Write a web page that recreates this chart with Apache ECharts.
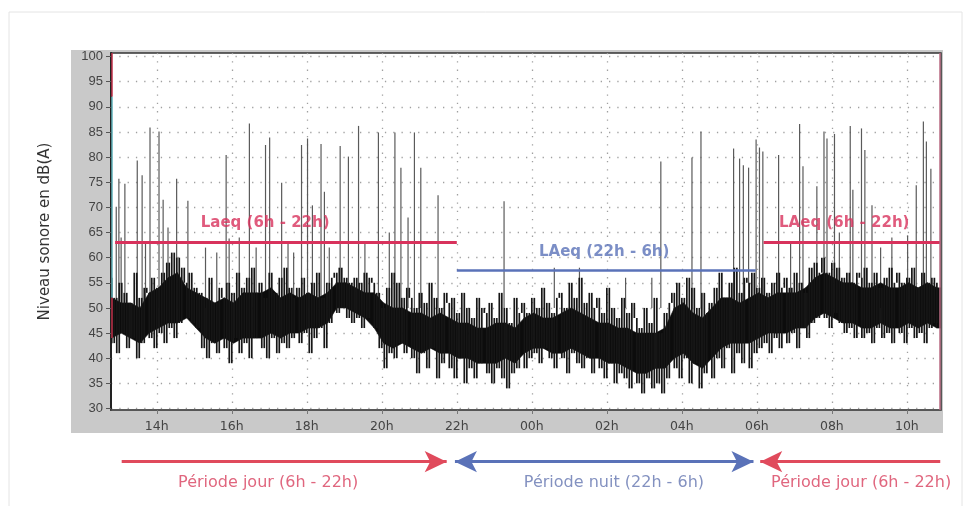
<!DOCTYPE html>
<html><head><meta charset="utf-8">
<script src="https://cdn.jsdelivr.net/npm/echarts@6/dist/echarts.min.js"></script>
<style>html,body{margin:0;padding:0;background:#fff}#c{width:973px;height:506px}</style>
</head><body><div id="c"></div>
<script>
// ---- tick labels ----
const hourTicks = [14, 16, 18, 20, 22, 24, 26, 28, 30, 32, 34];
const hourLabels = ['14h', '16h', '18h', '20h', '22h', '00h', '02h', '04h', '06h', '08h', '10h'];
const levelTicks = [30, 35, 40, 45, 50, 55, 60, 65, 70, 75, 80, 85, 90, 95, 100];

// ---- measured sound level, dB(A): one reading every 4 minutes from 12:48 ----
const sampleStart = 12.8;     // hours (12:48)
const sampleStepMin = 4;      // minutes
const levels = [
  56,43,52,41,55,45,53,42,51,44,57,40,52,43,54,   // 12:48
  53,44,56,42,54,45,57,43,59,46,61,44,60,47,58,   // 13:48
  55,48,57,47,54,46,53,42,52,40,56,43,51,41,54,   // 14:48
  52,42,55,39,53,44,57,41,54,43,56,40,58,44,53,   // 15:48
  55,42,52,40,57,44,53,41,56,43,58,42,54,44,52,   // 16:48
  54,43,56,45,53,41,55,44,57,46,52,42,55,47,56,   // 17:48
  57,49,58,50,56,48,55,47,56,48,55,46,57,48,56,   // 18:48
  55,46,53,42,50,38,54,41,57,40,55,43,52,41,54,   // 19:48
  52,40,50,37,53,41,51,38,55,42,52,36,50,39,53,   // 20:48
  51,38,52,36,49,40,53,35,50,38,48,36,52,39,50,   // 21:48
  49,37,51,35,48,38,53,36,50,34,47,37,52,38,49,   // 22:48
  51,38,49,40,52,41,50,39,54,42,51,40,49,38,52,   // 23:48
  53,40,50,37,55,41,52,39,56,38,51,40,53,37,50,   // 00:48
  52,38,49,36,54,39,50,35,48,37,52,36,49,34,51,   // 01:48
  48,35,46,33,50,36,47,34,52,35,45,33,49,36,51,   // 02:48
  53,38,55,36,52,40,56,35,54,39,50,34,53,37,49,   // 03:48
  51,36,54,40,57,38,52,42,55,37,58,41,53,39,56,   // 04:48
  55,38,57,41,54,42,56,43,53,41,55,44,57,42,54,   // 05:48
  56,43,54,45,57,42,55,46,53,44,58,47,59,48,57,   // 06:48
  60,48,57,46,59,49,58,47,56,45,57,46,55,44,57,   // 07:48
  56,44,58,45,55,43,57,46,54,44,56,45,58,43,55,   // 08:48
  57,45,55,43,56,46,58,44,54,45,57,43,55,46,56,   // 09:48
  47,55                                           // 10:48
];

// ---- dense core of the trace (bulk of readings), every 15 minutes from 12:48 ----
const coreStepMin = 15;
const coreLow = [
  44,45,44,43, 45,46,47,47, 48,46,44,43, 44,43,44,44, 44,45,44,45, 45,46,46,47,
  50,50,49,48, 46,43,42,43, 42,41,42,41, 41,40,40,39, 39,39,40,39, 41,42,42,41,
  41,42,41,40, 40,39,39,38, 37,37,38,38, 40,41,39,38, 40,42,43,43, 43,44,45,45,
  45,46,46,48, 49,48,47,47, 46,46,47,46, 46,47,46,47, 46,46
];
const coreHigh = [
  52,51,51,50, 53,54,56,57, 54,53,52,51, 52,51,53,53, 53,54,52,53, 52,53,52,53,
  55,55,54,53, 53,51,50,50, 49,49,48,49, 48,47,47,46, 46,47,47,46, 48,49,48,48,
  49,50,49,48, 47,47,46,46, 45,45,45,46, 50,51,49,48, 50,52,52,51, 52,53,52,53,
  53,53,54,56, 57,56,55,55, 54,54,55,54, 54,55,54,55, 54,54
];

// ---- isolated noise peaks: [hour, peak dB(A)] ----
const spikes = [
  [12.92,70.1],[12.99,75.7],[13.05,64],[13.15,74.7],[13.48,79.3],[13.61,76.4],[13.7,63],[13.82,85.9],
  [14.06,85.1],[14.17,71.5],[14.3,66],[14.53,75.7],[14.83,71.3],[15.3,62],[15.6,61],[15.85,80.4],
  [15.93,63.8],[16.2,64],[16.47,86.7],[16.65,62],[16.9,82.4],[17.01,83.9],[17.33,74.9],[17.5,63],
  [17.65,61],[17.86,82.4],[18.02,83.7],[18.15,70.4],[18.38,82.6],[18.47,73.1],[18.6,62],[18.89,82.2],
  [19.11,80.1],[19.38,86.2],[19.55,63],[19.91,84.9],[20.2,65],[20.35,84.9],[20.51,77.9],[20.7,68],
  [20.87,84.9],[21.04,77.9],[21.5,72.4],[23.26,71.2],[24.6,58],[25.27,58],[26.5,56],[27.2,56],
  [27.44,79.1],[28.27,79.9],[28.51,85.1],[29.38,81.7],[29.54,79.7],[29.64,78.4],[29.78,77.9],[29.98,83.5],
  [30.07,81.9],[30.16,81.1],[30.58,80.4],[30.9,63],[31.14,86.6],[31.23,78.2],[31.6,74.2],[31.79,85.1],
  [31.87,83.7],[32.07,84.6],[32.2,65],[32.49,86.2],[32.56,73.5],[32.79,85.7],[32.88,81.4],[33.07,70.4],
  [33.3,62],[33.6,64],[34.02,64.4],[34.25,74.4],[34.44,87.1],[34.52,83.1],[34.64,77.7]
];
const spikeBase = 50;

// ---- equivalent levels ----
const laeqDay = 63;
const laeqNight = 57.4;
const periods = {dayA: [12.89, 22], night: [22, 29.97], dayB: [30.18, 34.89]};

// ---- axis extents ----
const xMin = 12.78, xMax = 34.91;
const yMin = 29.7, yMax = 100.7;

const RED = '#d8325c', BLUE = '#5a72b8';
// trace: each reading joined vertically to the next one
const traceData = levels.slice(0, -1).map((v, i) => [sampleStart + i * sampleStepMin / 60, v, levels[i + 1]]);
const coreData = coreLow.slice(0, -1).map((lo, i) => {
  const t0 = sampleStart + i * coreStepMin / 60, t1 = sampleStart + (i + 1) * coreStepMin / 60;
  return [t0, lo, coreHigh[i], t1, coreLow[i + 1], coreHigh[i + 1]];
});

const chart = echarts.init(document.getElementById('c'), null, {renderer: 'canvas'});
const dotted = {color: '#a0a0a0', width: 1.3, type: [1.3, 7]};

chart.setOption({
  animation: false,
  backgroundColor: '#fff',
  graphic: [
    {type: 'rect', z: -10, shape: {x: 9, y: 12, width: 953, height: 500}, style: {fill: '#fff', stroke: '#e4e4e4', lineWidth: 1}},
    {type: 'rect', z: -9, shape: {x: 71, y: 50, width: 872, height: 383}, style: {fill: '#c9c9c9'}}
  ],
  grid: [
    {left: 111, right: 32, top: 53, height: 357, show: true, backgroundColor: '#fff', borderColor: '#333', borderWidth: 1.5},
    {left: 111, right: 32, top: 440, height: 50}
  ],
  xAxis: [
    {
      type: 'value', gridIndex: 0, min: xMin, max: xMax,
      axisLine: {show: true, onZero: false, lineStyle: {color: '#555', width: 1.5}},
      axisTick: {show: true, customValues: hourTicks, length: 4, lineStyle: {color: '#777'}},
      axisLabel: {customValues: hourTicks, margin: 10, color: '#444', fontFamily: 'DejaVu Sans', fontSize: 12.5,
        formatter: v => hourLabels[hourTicks.indexOf(v)] || ''},
      splitLine: {show: true, lineStyle: dotted}
    },
    {type: 'value', gridIndex: 1, min: xMin, max: xMax, show: false}
  ],
  yAxis: [
    {
      type: 'value', gridIndex: 0, min: yMin, max: yMax,
      name: 'Niveau sonore en dB(A)', nameLocation: 'middle', nameRotate: 90, nameGap: 58,
      nameTextStyle: {color: '#333', fontFamily: 'DejaVu Sans', fontSize: 15},
      axisLine: {show: true, lineStyle: {color: '#222', width: 2}},
      axisTick: {show: true, customValues: levelTicks, length: 5, lineStyle: {color: '#555'}},
      axisLabel: {customValues: levelTicks, margin: 8, color: '#444', fontFamily: 'Liberation Sans', fontSize: 13},
      splitLine: {show: true, lineStyle: dotted}
    },
    {type: 'value', gridIndex: 1, min: 0, max: 5, show: false}
  ],
  series: [
    {
      name: 'pics', type: 'custom', xAxisIndex: 0, yAxisIndex: 0, z: 2,
      data: spikes, clip: true,
      renderItem: (params, api) => {
        const top = api.coord([api.value(0), api.value(1)]);
        const base = api.coord([api.value(0), spikeBase]);
        return {type: 'line', shape: {x1: top[0], y1: base[1], x2: top[0], y2: top[1]},
          style: {stroke: '#5a5a5a', lineWidth: 1.2}};
      }
    },
    {
      name: 'coeur', type: 'custom', xAxisIndex: 0, yAxisIndex: 0, z: 3,
      data: coreData, clip: true,
      renderItem: (params, api) => {
        const a = api.coord([api.value(0), api.value(1)]);
        const b = api.coord([api.value(3), api.value(4)]);
        const c = api.coord([api.value(3), api.value(5)]);
        const d = api.coord([api.value(0), api.value(2)]);
        return {type: 'polygon', shape: {points: [a, b, c, d]}, style: {fill: '#0c0c0c', stroke: '#0c0c0c', lineWidth: 0.6}};
      }
    },
    {
      name: 'trace', type: 'custom', xAxisIndex: 0, yAxisIndex: 0, z: 4,
      data: traceData, clip: true,
      renderItem: (params, api) => {
        const p = api.coord([api.value(0), api.value(1)]);
        const q = api.coord([api.value(0), api.value(2)]);
        return {type: 'line', shape: {x1: p[0], y1: p[1], x2: p[0], y2: q[1]},
          style: {stroke: '#161616', lineWidth: 1.7}};
      }
    },
    {
      name: 'LAeq', type: 'line', xAxisIndex: 0, yAxisIndex: 0, z: 5,
      data: [], showSymbol: false,
      markLine: {
        silent: true, symbol: 'none', animation: false, z: 5,
        label: {show: false},
        data: [
          [{coord: [periods.dayA[0], laeqDay], lineStyle: {color: RED, width: 3, type: 'solid'}}, {coord: [periods.dayA[1], laeqDay]}],
          [{coord: [periods.night[0], laeqNight], lineStyle: {color: BLUE, width: 2.5, type: 'solid'}}, {coord: [periods.night[1], laeqNight]}],
          [{coord: [periods.dayB[0], laeqDay], lineStyle: {color: RED, width: 3, type: 'solid'}}, {coord: [periods.dayB[1], laeqDay]}],
          [{coord: [xMin + 0.02, yMax], lineStyle: {color: '#c0304a', width: 1.5, type: 'solid'}}, {coord: [xMin + 0.02, 92]}],
          [{coord: [xMin + 0.02, 92], lineStyle: {color: '#5fb0b8', width: 1.5, type: 'solid'}}, {coord: [xMin + 0.02, 52]}],
          [{coord: [xMin + 0.02, 52], lineStyle: {color: '#c0304a', width: 1.5, type: 'solid'}}, {coord: [xMin + 0.02, 44]}],
          [{coord: [xMax - 0.02, yMax], lineStyle: {color: '#b96a82', width: 1.5, type: 'solid'}}, {coord: [xMax - 0.02, yMin]}]
        ]
      }
    },
    {
      name: 'labels', type: 'scatter', xAxisIndex: 0, yAxisIndex: 0, z: 6,
      symbolSize: 1, itemStyle: {color: 'rgba(0,0,0,0)'}, silent: true,
      data: [
        {value: [16.89, 66.8], label: {formatter: 'Laeq (6h - 22h)', color: RED}},
        {value: [25.93, 61.1], label: {formatter: 'LAeq (22h - 6h)', color: BLUE}},
        {value: [32.33, 66.95], label: {formatter: 'LAeq (6h - 22h)', color: RED}}
      ],
      label: {show: true, position: 'inside', fontFamily: 'DejaVu Sans', fontWeight: 'bold', fontSize: 15}
    },
    {
      name: 'périodes', type: 'scatter', xAxisIndex: 1, yAxisIndex: 1,
      symbolSize: 1, itemStyle: {color: 'rgba(0,0,0,0)'}, silent: true,
      data: [
        {value: [16.97, 0.67], label: {formatter: 'Période jour (6h - 22h)', color: '#d8405e'}},
        {value: [26.19, 0.67], label: {formatter: 'Période nuit (22h - 6h)', color: '#6476b0'}},
        {value: [32.78, 0.67], label: {formatter: 'Période jour (6h - 22h)', color: '#d8405e'}}
      ],
      label: {show: true, position: 'inside', fontFamily: 'DejaVu Sans', fontSize: 16},
      markLine: {
        silent: true, animation: false, symbolSize: [16, 22], label: {show: false},
        data: [
          [{coord: [13.065, 2.83], symbol: 'none', lineStyle: {color: '#e04a5c', width: 3, type: 'solid'}}, {coord: [21.73, 2.83], symbol: 'arrow'}],
          [{coord: [21.95, 2.83], symbol: 'arrow', lineStyle: {color: BLUE, width: 3, type: 'solid'}}, {coord: [29.91, 2.83], symbol: 'arrow'}],
          [{coord: [34.89, 2.83], symbol: 'none', lineStyle: {color: '#e04a5c', width: 3, type: 'solid'}}, {coord: [30.09, 2.83], symbol: 'arrow'}]
        ]
      }
    }
  ]
});
</script>
</body></html>
